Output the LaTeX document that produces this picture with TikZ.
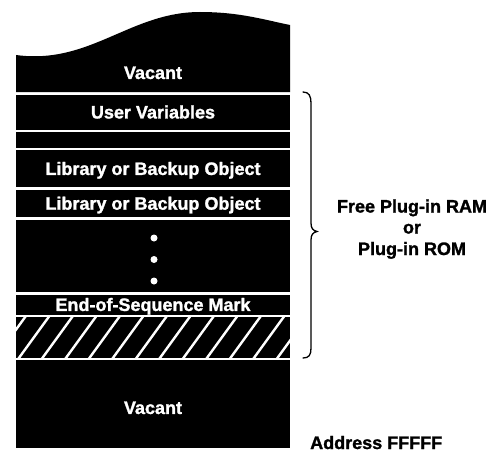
\documentclass[tikz,border=0pt]{standalone}
\usepackage{fontspec}
\setmainfont{Liberation Sans}
\newfontfamily\heavyfont{Liberation Sans Bold}[FakeBold=1.4]
\begin{document}
\begin{tikzpicture}[x=1pt,y=-1pt,
  txtfont/.style={font=\heavyfont\fontsize{18}{20}\selectfont},
  band/.style={fill=black, text=white, minimum width=274pt, inner sep=0pt,
    text height=12.9pt, text depth=0pt, txtfont},
  wtext/.style={text=white, inner sep=0pt, text height=12.9pt, text depth=0pt, txtfont},
  lbl/.style={txtfont, inner sep=0pt, anchor=base},
  dotmark/.style={circle, fill=white, minimum size=7pt, inner sep=0pt},
  hatchline/.style={white, line width=2.4pt},
  bracestyle/.style={black, line width=1.3pt, line cap=round},
]
\useasboundingbox (0,0) rectangle (492,452);
% top wavy vacant region
\fill[black] (16,55) .. controls (90,65) and (130,12) .. (200,12)
  .. controls (240,12) and (265,20) .. (290,25) -- (290,92) -- (16,92) -- cycle;
\node[wtext] (vacTop) at (153,72.5) {Vacant};
% bands
\node[band, minimum height=35pt]   (uv)   at (153,112)    {User Variables};
\node[band, minimum height=16.5pt] (thin) at (153,139.75) {};
\node[band, minimum height=37pt]   (lib1) at (153,168.5)  {Library or Backup Object};
\node[band, minimum height=27.5pt] (lib2) at (153,203.25) {Library or Backup Object};
\node[band, minimum height=72.5pt] (dots) at (153,255.75) {};
\node[band, minimum height=20pt]   (eos)  at (153,304.5)  {End-of-Sequence Mark};
\node[band, minimum height=40.5pt] (hatch) at (153,337.25) {};
\node[band, minimum height=88pt]   (vacBot) at (153,404) {};
\node[wtext] (vacBotText) at (153,407.5) {Vacant};
% dots
\node[dotmark] (d1) at (154,238) {};
\node[dotmark] (d2) at (154,259.5) {};
\node[dotmark] (d3) at (154,281) {};
% hatching
\begin{scope}
  \clip (hatch.south west) rectangle (hatch.north east);
  \foreach \i in {-3,...,13} {
    \draw[hatchline] ({16+\i*23.5},362) -- ({16+\i*23.5+36.3},312);
  }
\end{scope}
% brace
\coordinate (bTop) at (303,92);
\coordinate (bTip) at (317,231.5);
\coordinate (bBot) at (303,358);
\draw[bracestyle] (bTop) .. controls (309,92) and (311,96) .. (311,103)
  -- (311,223) .. controls (311,228.5) and (313,230.5) .. (bTip)
  .. controls (313,232.5) and (311,234.5) .. (311,240)
  -- (311,348) .. controls (311,355) and (309,358) .. (bBot);
% right labels
\node[lbl] (r1) at (412,212.5) {Free Plug-in RAM};
\node[lbl] (r2) at (412,233.5) {or};
\node[lbl] (r3) at (412,255) {Plug-in ROM};
\node[lbl, anchor=base west] (addr) at (310,449) {Address FFFFF};
\end{tikzpicture}
\end{document}
